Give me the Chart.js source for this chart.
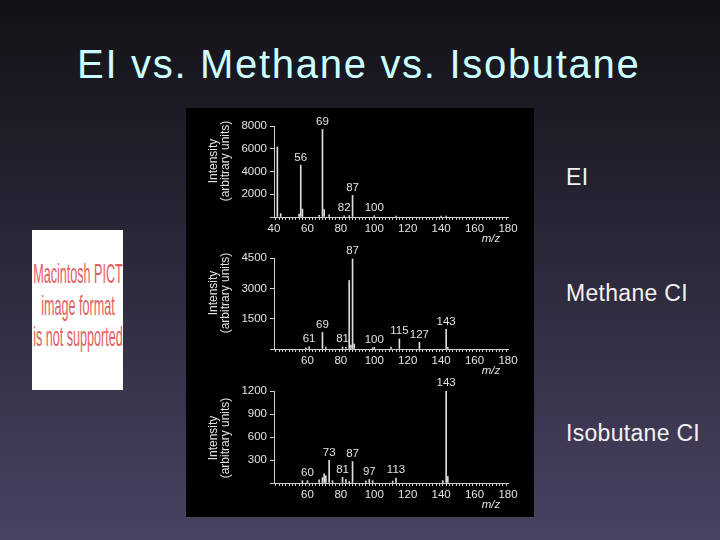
<!DOCTYPE html>
<html lang="en">
<head>
  <meta charset="UTF-8">
  <title>EI vs. Methane vs. Isobutane</title>
  <script src="https://cdn.jsdelivr.net/npm/chart.js"></script>
  <style>
    body {
      margin: 0;
      width: 720px;
      height: 540px;
      overflow: hidden;
      position: relative;
      font-family: "Liberation Sans", Arial, sans-serif;
      background: linear-gradient(180deg, #121216 0%, #2a2738 45%, #4a4262 100%);
    }
    .title {
      position: absolute;
      left: 77px;
      top: 44px;
      font-size: 40px;
      line-height: 40px;
      letter-spacing: 1.7px;
      color: #ccffff;
      white-space: nowrap;
    }
    .side {
      position: absolute;
      left: 566px;
      font-size: 23px;
      line-height: 23px;
      letter-spacing: 0.3px;
      color: #f2f2f2;
      white-space: nowrap;
    }
    .pict {
      position: absolute;
      left: 32px;
      top: 230px;
      width: 91px;
      height: 160px;
      background: #ffffff;
    }
    .pict div {
      position: absolute;
      left: 46px;
      width: 240px;
      margin-left: -120px;
      text-align: center;
      font-size: 28px;
      line-height: 28px;
      color: #e25e5e;
      transform: scaleX(0.45);
      white-space: nowrap;
    }
    .panel {
      position: absolute;
      left: 186px;
      top: 108px;
      width: 348px;
      height: 409px;
      background: #000;
    }
    .panel canvas {
      position: absolute;
      left: 0;
    }
  </style>
</head>
<body>
  <div class="title">EI vs. Methane vs. Isobutane</div>

  <div class="pict">
    <div style="top:30px">Macintosh PICT</div>
    <div style="top:62px">image format</div>
    <div style="top:93px">is not supported</div>
  </div>

  <div class="panel">
    <canvas id="eiChart" width="348" height="137" style="top:0px"></canvas>
    <canvas id="methaneChart" width="348" height="135" style="top:137px"></canvas>
    <canvas id="isobutaneChart" width="348" height="149" style="top:260px"></canvas>
  </div>

  <div class="side" style="top:166px">EI</div>
  <div class="side" style="top:282px">Methane CI</div>
  <div class="side" style="top:422px">Isobutane CI</div>

  <script>
    // EI spectrum
    const eiMz = [42, 44, 55, 56, 57, 67, 69, 70, 73, 82, 85, 87, 100, 113, 140, 143];
    const eiIntensity = [6150, 300, 250, 4560, 700, 150, 7700, 650, 200, 100, 120, 1900, 110, 70, 80, 80];
    const eiLabels = [56, 69, 82, 87, 100];
    const eiTicks = [2000, 4000, 6000, 8000];

    // Methane CI spectrum
    const methaneMz = [59, 61, 69, 71, 81, 83, 85, 86, 87, 88, 99, 100, 110, 115, 127, 143, 144];
    const methaneIntensity = [60, 110, 820, 90, 100, 80, 3390, 200, 4450, 250, 60, 80, 100, 500, 330, 975, 80];
    const methaneLabels = [61, 69, 81, 87, 100, 115, 127, 143];
    const methaneTicks = [1500, 3000, 4500];

    // Isobutane CI spectrum
    const isoMz = [57, 60, 67, 69, 70, 71, 73, 75, 81, 83, 85, 87, 95, 97, 99, 111, 113, 141, 143, 144];
    const isoIntensity = [30, 30, 40, 70, 120, 95, 295, 30, 73, 45, 20, 280, 25, 45, 30, 25, 65, 30, 1200, 85];
    const isoLabels = [60, 73, 81, 87, 97, 113, 143];
    const isoTicks = [300, 600, 900, 1200];

    const ink = '#e2e2e2';
    const font = { family: '"Liberation Sans", Arial, sans-serif', size: 11.5 };

    // draws peak labels, the y title and m/z
    function spectrumPlugin(labels, titleY) {
      return {
        id: 'spectrumText',
        afterDatasetsDraw(chart) {
          const ctx = chart.ctx;
          const xs = chart.scales.x, ys = chart.scales.y;
          const pts = chart.data.datasets[0].data;
          ctx.save();
          ctx.fillStyle = ink;
          ctx.font = '11.5px "Liberation Sans", Arial, sans-serif';
          ctx.textAlign = 'center';
          ctx.textBaseline = 'bottom';
          labels.forEach(m => {
            const p = pts.find(d => d.x === m);
            if (!p) return;
            ctx.fillText(String(m), xs.getPixelForValue(m), ys.getPixelForValue(p.y) - 2);
          });
          // m/z
          ctx.font = 'italic 11.5px "Liberation Sans", Arial, sans-serif';
          ctx.textBaseline = 'middle';
          ctx.fillText('m/z', chart.chartArea.right - 17, chart.chartArea.bottom + 22);
          // y axis title
          ctx.font = '12px "Liberation Sans", Arial, sans-serif';
          ctx.translate(34, titleY);
          ctx.rotate(-Math.PI / 2);
          ctx.fillText('Intensity', 0, -6);
          ctx.fillText('(arbitrary units)', 0, 6);
          ctx.restore();
        }
      };
    }

    function makeSpectrum(id, mz, intensity, labels, yTicks, topPad, xHeight, firstLabel, titleY) {
      const yMax = yTicks[yTicks.length - 1];
      const step = yTicks[0];
      new Chart(document.getElementById(id).getContext('2d'), {
        type: 'bar',
        data: {
          datasets: [{
            data: mz.map((m, i) => ({ x: m, y: intensity[i] })),
            backgroundColor: '#dcdcdc',
            barThickness: 1
          }]
        },
        options: {
          responsive: false,
          animation: false,
          devicePixelRatio: 1,
          layout: { padding: { top: topPad, right: 26, left: 0, bottom: 0 } },
          plugins: { legend: { display: false }, tooltip: { enabled: false } },
          scales: {
            x: {
              type: 'linear',
              min: 40,
              max: 180,
              offset: false,
              grid: { drawOnChartArea: false, tickLength: 3, color: '#cfcfcf' },
              border: { color: '#cfcfcf' },
              ticks: {
                stepSize: 2,
                autoSkip: false,
                maxRotation: 0,
                padding: 2,
                color: ink,
                font: font,
                callback: v => (v % 20 === 0 && v >= firstLabel) ? v : ''
              },
              afterFit: s => { s.height = xHeight; }
            },
            y: {
              min: 0,
              max: yMax,
              grid: { drawOnChartArea: false, tickLength: 4, color: '#cfcfcf' },
              border: { color: '#cfcfcf' },
              ticks: {
                stepSize: step,
                padding: 3,
                color: ink,
                font: font,
                callback: v => v === 0 ? '' : v
              },
              afterFit: s => { s.width = 88; }
            }
          }
        },
        plugins: [spectrumPlugin(labels, titleY)]
      });
    }

    makeSpectrum('eiChart', eiMz, eiIntensity, eiLabels, eiTicks, 18, 28, 40, 53);
    makeSpectrum('methaneChart', methaneMz, methaneIntensity, methaneLabels, methaneTicks, 13, 31, 60, 48);
    makeSpectrum('isobutaneChart', isoMz, isoIntensity, isoLabels, isoTicks, 23, 34, 60, 70);
  </script>
</body>
</html>
